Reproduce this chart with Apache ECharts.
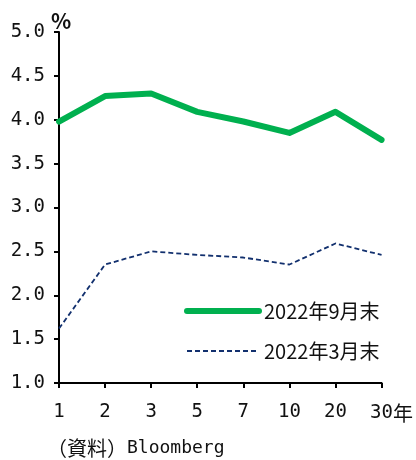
<!DOCTYPE html>
<html>
<head>
<meta charset="utf-8">
<script src="https://cdn.jsdelivr.net/npm/echarts@6/dist/echarts.min.js"></script>
<style>
  html, body { margin: 0; padding: 0; background: #fff; }
  #chart { width: 416px; height: 460px; }
</style>
</head>
<body>
<div id="chart"></div>
<script>
// Maturities (years) on the x axis
const maturities = ['1', '2', '3', '5', '7', '10', '20', '30'];
// Yield curves, %
const yieldsSep2022 = [3.98, 4.27, 4.30, 4.09, 3.98, 3.85, 4.09, 3.77];
const yieldsMar2022 = [1.62, 2.35, 2.50, 2.46, 2.43, 2.35, 2.59, 2.46];
const seriesNames = ['2022年9月末', '2022年3月末'];
const unitLabel = '%';
const sourceLabel = '（資料）';
const sourceName = 'Bloomberg';

const monoFont = '"DejaVu Sans Mono", "Noto Sans CJK JP", monospace';
const jpFont = '"Noto Sans CJK JP", sans-serif';
const green = '#00b04f';
const navy = '#12306e';

const chart = echarts.init(document.getElementById('chart'));
const lastIdx = maturities.length - 1;

chart.setOption({
  animation: false,
  grid: { left: 59, right: 33, top: 32, bottom: 77 },
  xAxis: {
    type: 'category',
    data: maturities,
    boundaryGap: false,
    axisLine: { lineStyle: { color: '#000', width: 2 } },
    axisTick: { show: true, length: 5, interval: 0, lineStyle: { color: '#000', width: 2 } },
    axisLabel: {
      interval: 0,
      color: '#111',
      fontFamily: monoFont,
      fontSize: 19,
      margin: 20,
      formatter: (v, i) => i === lastIdx ? '{sp|}' + v + '{u|年}' : v,
      rich: {
        sp: { width: 20 },
        u: { fontFamily: jpFont, fontSize: 20, color: '#111' }
      }
    }
  },
  yAxis: {
    type: 'value',
    min: 1.0,
    max: 5.0,
    interval: 0.5,
    splitLine: { show: false },
    axisLine: { show: true, lineStyle: { color: '#000', width: 2 } },
    axisTick: { show: true, length: 5, lineStyle: { color: '#000', width: 2 } },
    axisLabel: {
      color: '#111',
      fontFamily: monoFont,
      fontSize: 19,
      margin: 14,
      formatter: v => v.toFixed(1)
    }
  },
  legend: {
    orient: 'vertical',
    left: 179,
    top: 296,
    itemWidth: 72,
    itemHeight: 22,
    itemGap: 20,
    textStyle: { color: '#111', fontFamily: jpFont, fontSize: 20 },
    data: [
      { name: seriesNames[0], itemStyle: { opacity: 0 }, lineStyle: { width: 6, cap: 'round', color: green } },
      { name: seriesNames[1], itemStyle: { opacity: 0 }, lineStyle: { width: 1.8, type: [5, 3], color: navy } }
    ]
  },
  graphic: [
    {
      // unit label above the value axis
      type: 'text',
      x: 61,
      y: 32,
      style: {
        text: unitLabel,
        fill: '#111',
        font: 'bold 21px ' + jpFont,
        textAlign: 'center',
        textVerticalAlign: 'bottom'
      }
    },
    {
      type: 'text',
      left: 47,
      top: 438,
      style: {
        text: '{a|' + sourceLabel + '}{b|' + sourceName + '}',
        fill: '#111',
        rich: {
          a: { fontFamily: jpFont, fontSize: 20, fill: '#111' },
          b: { fontFamily: monoFont, fontSize: 18, fill: '#111' }
        }
      }
    }
  ],
  series: [
    {
      name: seriesNames[0],
      type: 'line',
      data: yieldsSep2022,
      symbol: 'none',
      lineStyle: { color: green, width: 6, cap: 'round', join: 'round' },
      itemStyle: { color: green },
      z: 3
    },
    {
      name: seriesNames[1],
      type: 'line',
      data: yieldsMar2022,
      symbol: 'none',
      lineStyle: { color: navy, width: 1.8, type: [5, 3] },
      itemStyle: { color: navy },
      z: 2
    }
  ]
});
</script>
</body>
</html>
